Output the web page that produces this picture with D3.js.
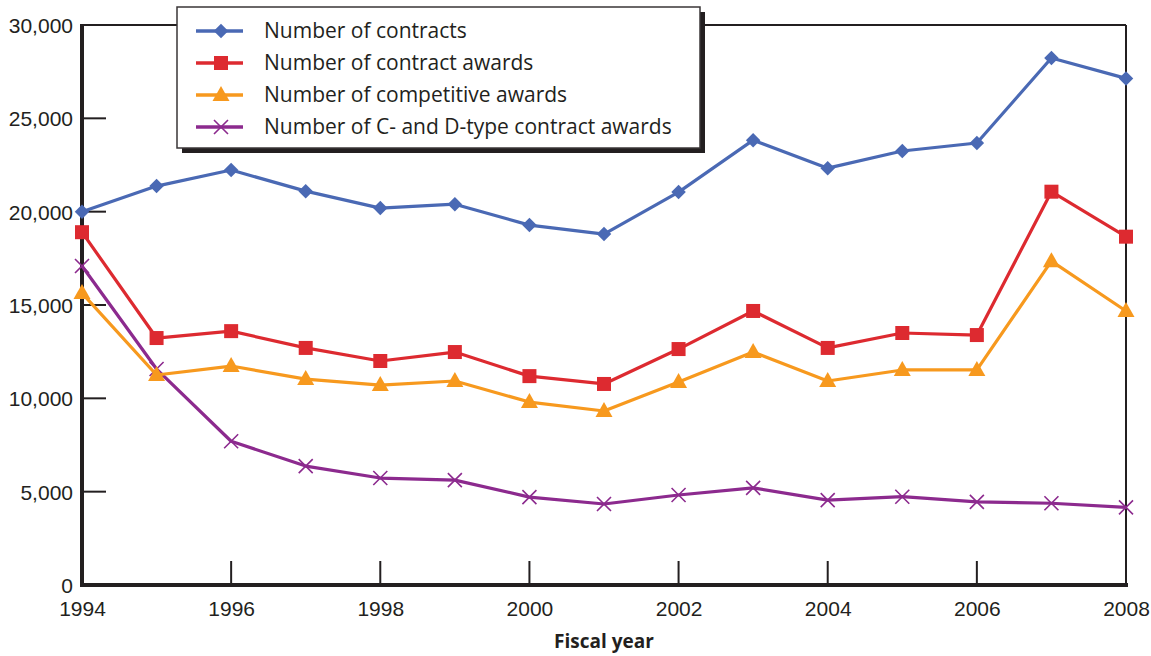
<!DOCTYPE html>
<html><head><meta charset="utf-8">
<script src="https://cdn.jsdelivr.net/npm/d3@7"></script>
<style>body{margin:0;background:#fff}svg{display:block;font-family:"Open Sans","Noto Sans",sans-serif}</style>
</head><body><svg id="c" width="1151" height="656"></svg>
<script>
const years = [1994,1995,1996,1997,1998,1999,2000,2001,2002,2003,2004,2005,2006,2007,2008];
const contracts = [20000,21370,22230,21100,20190,20400,19280,18800,21050,23830,22330,23250,23680,28230,27140];
const contractAwards = [18900,13230,13600,12700,12000,12480,11190,10770,12640,14680,12700,13500,13390,21070,18660];
const competitiveAwards = [15640,11250,11730,11030,10710,10930,9800,9320,10870,12480,10930,11520,11520,17350,14680];
const cdAwards = [17090,11570,7700,6370,5730,5620,4710,4340,4820,5200,4550,4730,4450,4380,4160];
const seriesNames = ["Number of contracts","Number of contract awards","Number of competitive awards","Number of C- and D-type contract awards"];
const yTicks = [0,5000,10000,15000,20000,25000,30000];
const xTicks = [1994,1996,1998,2000,2002,2004,2006,2008];

const series = [
  {name:seriesNames[0], values:contracts, color:"#4a69b4", marker:"diamond"},
  {name:seriesNames[1], values:contractAwards, color:"#dd2a30", marker:"square"},
  {name:seriesNames[2], values:competitiveAwards, color:"#f7991e", marker:"triangle"},
  {name:seriesNames[3], values:cdAwards, color:"#8c2a8e", marker:"x"}
];

const svg = d3.select("#c");
const L=82, R=1126, T=25, B=585;
const x = d3.scaleLinear().domain([1994,2008]).range([L,R]);
const y = d3.scaleLinear().domain([0,30000]).range([B,T]);

// frame top and right
svg.append("line").attr("x1",L).attr("x2",R).attr("y1",T).attr("y2",T).attr("stroke","#231f20").attr("stroke-width",2);
svg.append("line").attr("x1",R).attr("x2",R).attr("y1",T).attr("y2",B).attr("stroke","#231f20").attr("stroke-width",2);

// y axis
const yAxis = d3.axisLeft(y).tickValues(yTicks).tickSize(0).tickPadding(9).tickFormat(d3.format(","));
const gy = svg.append("g").attr("transform",`translate(${L},0)`).call(yAxis);
gy.select(".domain").remove();
gy.selectAll("text").attr("font-size",21).attr("fill","#231f20").attr("dy","0.36em");
svg.append("g").selectAll("line").data(yTicks.filter(d=>d>0&&d<30000)).join("line")
  .attr("x1",L).attr("x2",L+24).attr("y1",d=>y(d)).attr("y2",d=>y(d)).attr("stroke","#231f20").attr("stroke-width",2);

// x axis
const xAxis = d3.axisBottom(x).tickValues(xTicks).tickSize(0).tickPadding(16).tickFormat(d3.format("d"));
const gx = svg.append("g").attr("transform",`translate(0,${B})`).call(xAxis);
gx.select(".domain").remove();
gx.selectAll("text").attr("font-size",21).attr("fill","#231f20");
svg.append("g").selectAll("line").data(xTicks.filter(d=>d>1994&&d<2008)).join("line")
  .attr("x1",d=>x(d)).attr("x2",d=>x(d)).attr("y1",B).attr("y2",B-24).attr("stroke","#231f20").attr("stroke-width",2);

// thick left and bottom axis lines
svg.append("line").attr("x1",L).attr("x2",L).attr("y1",T-1).attr("y2",B+2).attr("stroke","#231f20").attr("stroke-width",4);
svg.append("line").attr("x1",L-2).attr("x2",R+2).attr("y1",B).attr("y2",B).attr("stroke","#231f20").attr("stroke-width",4);

svg.append("text").attr("x",604).attr("y",648).attr("text-anchor","middle")
  .attr("font-size",19).attr("font-weight","bold").attr("fill","#231f20").text("Fiscal year");

function drawMarker(g, type, color, cx, cy){
  if(type==="diamond"){
    g.append("path").attr("d",d3.symbol(d3.symbolSquare,105)()).attr("transform",`translate(${cx},${cy}) rotate(45)`).attr("fill",color);
  } else if(type==="square"){
    g.append("rect").attr("x",cx-7).attr("y",cy-7).attr("width",14).attr("height",14).attr("fill",color);
  } else if(type==="triangle"){
    g.append("path").attr("d",`M${cx},${cy-9}L${cx+8.5},${cy+6}L${cx-8.5},${cy+6}Z`).attr("fill",color);
  } else {
    g.append("path").attr("d",`M${cx-7},${cy-7}L${cx+7},${cy+7}M${cx-7},${cy+7}L${cx+7},${cy-7}`).attr("stroke",color).attr("stroke-width",1.6).attr("fill","none");
  }
}

const line = d3.line().x((d,i)=>x(years[i])).y(d=>y(d));
series.slice().reverse().forEach(s=>{
  const g = svg.append("g");
  g.append("path").attr("d",line(s.values)).attr("fill","none").attr("stroke",s.color).attr("stroke-width",3.2).attr("stroke-linejoin","round");
  s.values.forEach((v,i)=>drawMarker(g,s.marker,s.color,x(years[i]),y(v)));
});

// legend
const lg = svg.append("g");
lg.append("rect").attr("x",182).attr("y",12).attr("width",523).attr("height",141).attr("fill","#231f20");
lg.append("rect").attr("x",177).attr("y",7).attr("width",523).attr("height",141).attr("fill","#fff").attr("stroke","#3a3637").attr("stroke-width",1.5);
series.forEach((s,i)=>{
  const cy = 31 + i*32;
  lg.append("line").attr("x1",196).attr("x2",243).attr("y1",cy).attr("y2",cy).attr("stroke",s.color).attr("stroke-width",3.5);
  drawMarker(lg,s.marker,s.color,221,cy);
  lg.append("text").attr("x",264).attr("y",cy+7).attr("font-size",21).attr("fill","#231f20").text(s.name);
});
</script></body></html>
